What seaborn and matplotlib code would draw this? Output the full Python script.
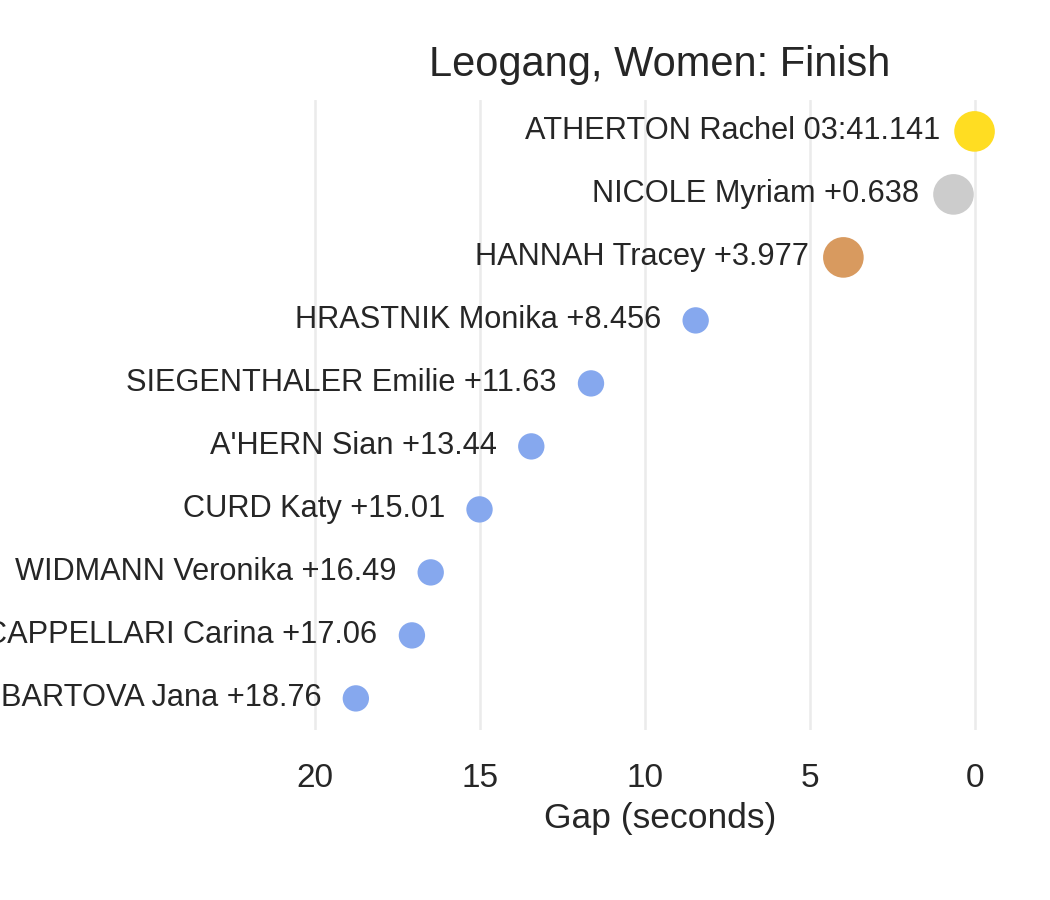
import matplotlib
matplotlib.use('Agg')
import matplotlib.pyplot as plt
import seaborn as sns
import pandas as pd

riders = ['ATHERTON Rachel', 'NICOLE Myriam', 'HANNAH Tracey', 'HRASTNIK Monika',
          'SIEGENTHALER Emilie', "A'HERN Sian", 'CURD Katy', 'WIDMANN Veronika',
          'CAPPELLARI Carina', 'BARTOVA Jana']
gaps = [0.0, 0.638, 3.977, 8.456, 11.63, 13.44, 15.01, 16.49, 17.06, 18.76]
gap_labels = ['03:41.141', '+0.638', '+3.977', '+8.456', '+11.63', '+13.44',
              '+15.01', '+16.49', '+17.06', '+18.76']
medal = ['gold', 'silver', 'bronze'] + ['other'] * 7

sns.set_theme(style='whitegrid')
plt.rcParams['font.family'] = ['Liberation Sans', 'DejaVu Sans']

df = pd.DataFrame({'rider': riders, 'gap': gaps, 'medal': medal, 'pos': range(len(riders))})
palette = {'gold': '#FFDD22', 'silver': '#CCCCCC', 'bronze': '#D89A5F', 'other': '#86A8EE'}
sizes = {'gold': 95, 'silver': 95, 'bronze': 95, 'other': 40}

fig = plt.figure(figsize=(3.5, 3), dpi=300)
ax = fig.add_axes([0, 0.189, 0.952, 0.70])
sns.scatterplot(data=df, x='gap', y='pos', hue='medal', size='medal', sizes=sizes,
                palette=palette, linewidth=0, legend=False, ax=ax, zorder=3)

for i, row in df.iterrows():
    off = 1.05
    ax.text(row['gap'] + off, row['pos'], f"{row['rider']} {gap_labels[i]}",
            ha='right', va='center', fontsize=7.4, color='#262626')

ax.set_xlim(29.55, -0.76)
ax.set_ylim(9.5, -0.5)
ax.set_xticks([20, 15, 10, 5, 0])
ax.set_yticks([])
ax.grid(axis='y', visible=False)
ax.grid(axis='x', color='#EBEBEB', linewidth=0.6)
ax.set_facecolor('white')
for s in ax.spines.values():
    s.set_visible(False)
ax.tick_params(axis='x', labelsize=8, colors='#262626', pad=2)
ax.set_xlabel('Gap (seconds)', fontsize=8.5, color='#262626')
ax.xaxis.set_label_coords(660 / 1000, -0.115)
ax.set_ylabel('')
fig.text(660 / 1050, 1 - 65 / 900, 'Leogang, Women: Finish', ha='center', va='center',
         fontsize=10, color='#262626')

fig.savefig('out.png', dpi=300)
